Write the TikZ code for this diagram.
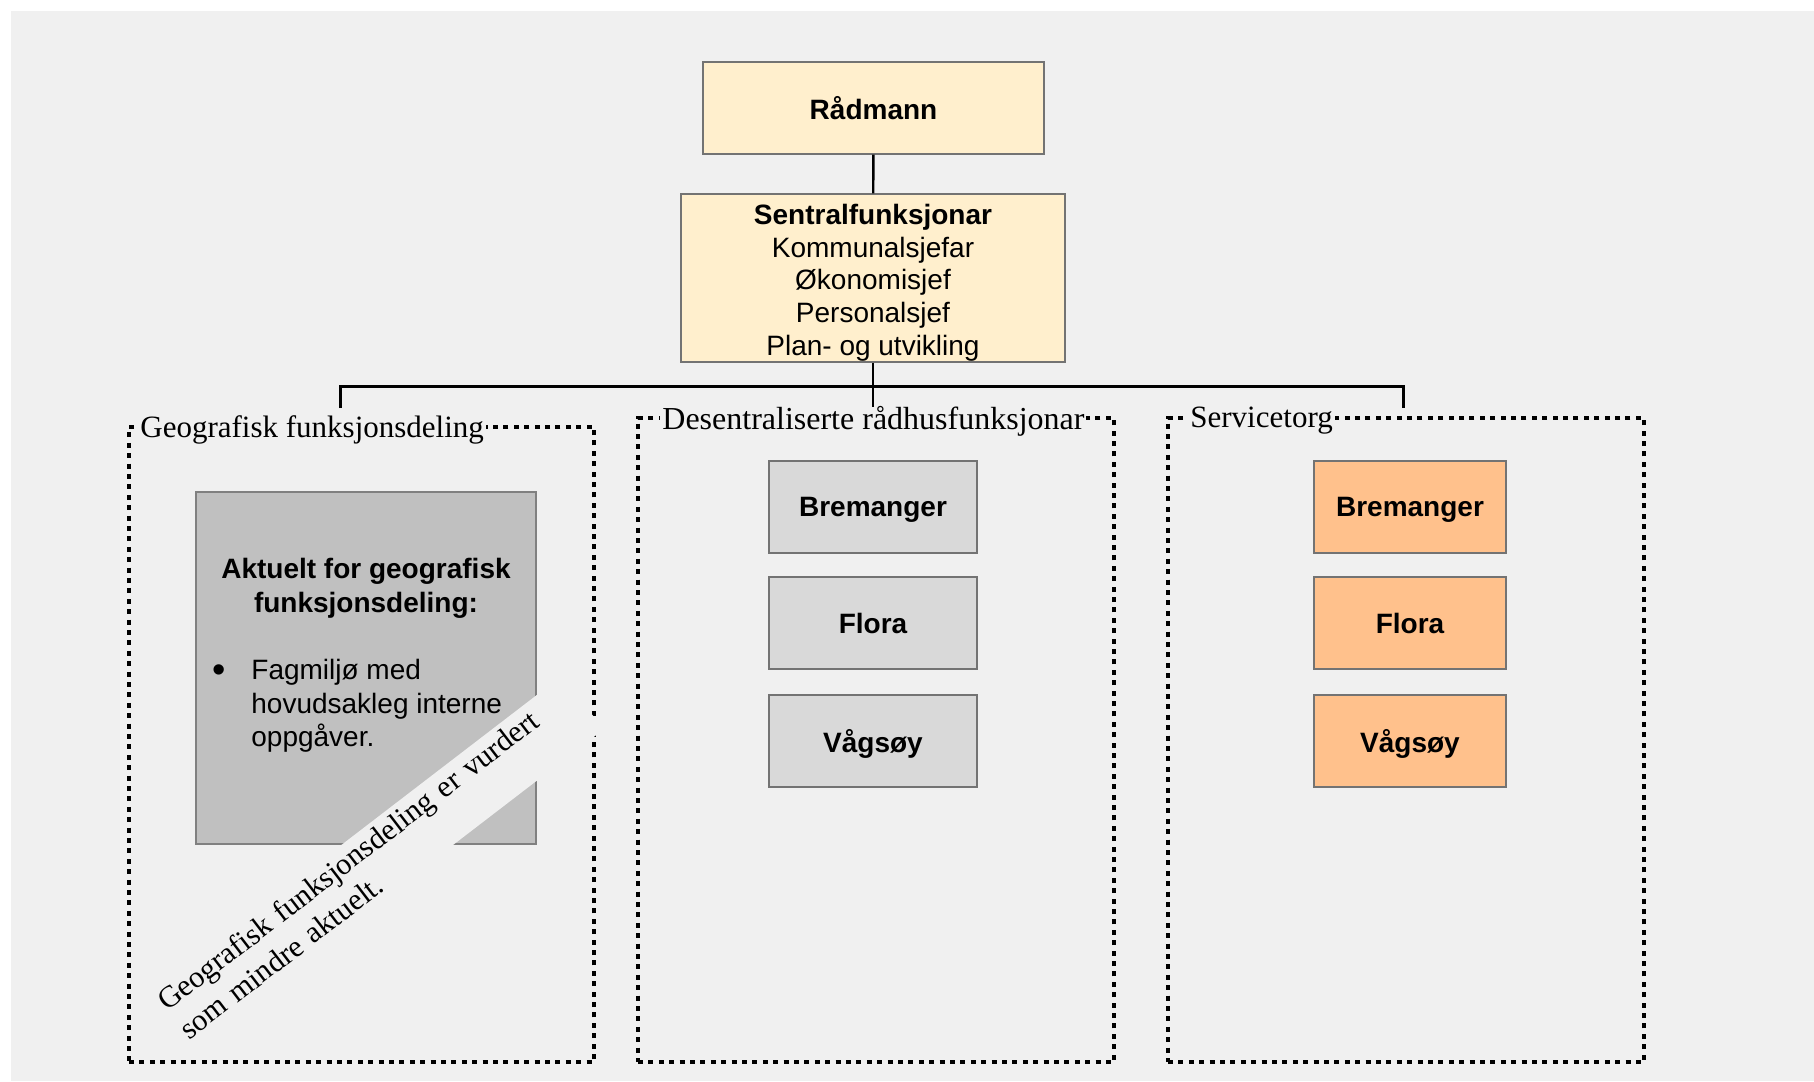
\documentclass[tikz,border=0pt]{standalone}
\usepackage{fontspec}
\setmainfont{Liberation Sans}
\newfontfamily\labelserif{Liberation Serif}
\definecolor{bgcol}{HTML}{F0F0F0}
\definecolor{leadcol}{HTML}{FFEFCD}
\definecolor{aktcol}{HTML}{C0C0C0}
\definecolor{descol}{HTML}{D9D9D9}
\definecolor{torgcol}{HTML}{FFC18C}
\begin{document}
\begin{tikzpicture}[x=0.5pt,y=-0.5pt,
    font=\fontsize{14pt}{16.4pt}\selectfont,
    orgbox/.style={draw=black!55,line width=0.6pt,fill=leadcol,inner sep=0pt,align=center},
    townbox/.style={draw=black!55,line width=0.6pt,minimum height=46pt,inner sep=0pt,text depth=0pt,font=\fontsize{14pt}{16.4pt}\selectfont\bfseries},
    frame/.style={draw,line width=2.4pt,dash pattern=on 2.5pt off 2.7pt,minimum width=238pt,minimum height=322pt,inner sep=0pt},
    framelabel/.style={fill=bgcol,anchor=west,inner xsep=1pt,inner ysep=0pt,font=\labelserif\fontsize{15.5pt}{19pt}\selectfont},
    link/.style={line width=1.5pt}]
    \useasboundingbox (0,0) rectangle (1814,1081);
    \fill[bgcol] (11,11) rectangle (1814,1081);
    % top of the chart
    \node[orgbox,minimum width=170.5pt,minimum height=46pt,font=\fontsize{14pt}{16.4pt}\selectfont\bfseries] (radmann) at (873.5,108) {Rådmann};
    \node[orgbox,minimum width=192pt,minimum height=84pt] (sentral) at (873,278)
        {\rule{0pt}{14.8pt}\textbf{Sentralfunksjonar}\\Kommunalsjefar\\Økonomisjef\\Personalsjef\\Plan- og utvikling};
    % the three groups
    \node[frame,minimum width=232.5pt,minimum height=317.5pt] (geo) at (361.5,744.5) {};
    \node[frame] (desentral) at (876,740) {};
    \node[frame] (torg) at (1406,740) {};
    \node[framelabel] (geoLabel) at (138,430) {Geografisk funksjonsdeling};
    \node[framelabel,font=\labelserif\fontsize{16pt}{19pt}\selectfont] (desLabel) at (660,421) {Desentraliserte rådhusfunksjonar};
    \node[framelabel] (torgLabel) at (1188,421) {Servicetorg};
    \node[draw=black!50,line width=0.6pt,fill=aktcol,minimum width=170pt,minimum height=176pt] (aktuelt) at (366,668) {};
    \node[align=center,inner sep=0pt,font=\fontsize{14pt}{17pt}\selectfont\bfseries] (aktTitle) at (366,588)
        {Aktuelt for geografisk\\funksjonsdeling:};
    \node[inner sep=0pt,font=\fontsize{19pt}{20pt}\selectfont] (aktDot) at (219,673.5) {\textbullet};
    \node[anchor=west,align=left,inner sep=0pt,font=\fontsize{14pt}{16.75pt}\selectfont] (aktList) at (251,706)
        {Fagmiljø med\\hovudsakleg interne\\oppgåver.};
    \node[fill=bgcol,rotate=37.5,align=left,text width=256pt,inner xsep=3pt,inner ysep=0pt,minimum height=34pt,
        font=\labelserif\fontsize{15.2pt}{18pt}\selectfont] (note) at (375,862)
        {Geografisk funksjonsdeling er vurdert\\som mindre aktuelt.};
    \node[townbox,fill=descol,minimum width=104pt] (desBremanger) at (873,507) {Bremanger};
    \node[townbox,fill=descol,minimum width=104pt] (desFlora) at (873,623) {Flora};
    \node[townbox,fill=descol,minimum width=104pt] (desVagsoy) at (873,741) {Vågsøy};
    \node[townbox,fill=torgcol,minimum width=96pt] (torgBremanger) at (1410,507) {Bremanger};
    \node[townbox,fill=torgcol,minimum width=96pt] (torgFlora) at (1410,623) {Flora};
    \node[townbox,fill=torgcol,minimum width=96pt] (torgVagsoy) at (1410,741) {Vågsøy};
    % connectors
    \coordinate (bus) at (873,386);
    \coordinate (geoDrop) at (340,408);
    \coordinate (desDrop) at (873,407);
    \coordinate (torgDrop) at (1403,408);
    \draw[line width=1.2pt] (radmann) -- (sentral);
    \draw[line width=1.2pt] (sentral) -- (desDrop);
    \draw[link] (geoDrop) |- (bus) -| (torgDrop);
\end{tikzpicture}
\end{document}
